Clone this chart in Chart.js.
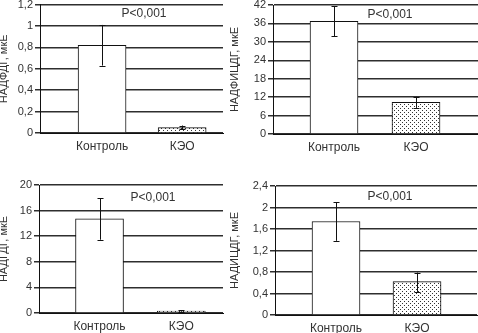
<!DOCTYPE html>
<html>
<head>
<meta charset="utf-8">
<script src="https://cdn.jsdelivr.net/npm/chart.js@4/dist/chart.umd.min.js"></script>
<style>
  body { margin: 0; background: #fff; }
  #wrap { position: relative; width: 478px; height: 333px; overflow: hidden; background: #fff; }
  .panel { position: absolute; }
</style>
</head>
<body>
<div id="wrap">
  <div class="panel" id="p1"><canvas id="c1"></canvas></div>
  <div class="panel" id="p2"><canvas id="c2"></canvas></div>
  <div class="panel" id="p3"><canvas id="c3"></canvas></div>
  <div class="panel" id="p4"><canvas id="c4"></canvas></div>
</div>
<script>
const categories = ['Контроль', 'КЭО'];
const pLabel = 'P<0,001';

// values: mean, lower and upper end of the error bar
const ndfdgMean = [0.82, 0.05];
const ndfdgLow = [0.63, 0.035];
const ndfdgHigh = [1.01, 0.07];

const ndficdgMean = [36.7, 10.3];
const ndficdgLow = [31.9, 8.5];
const ndficdgHigh = [41.6, 12.1];

const ndgdgMean = [14.7, 0.3];
const ndgdgLow = [11.45, 0.2];
const ndgdgHigh = [17.9, 0.4];

const ndicdgMean = [1.74, 0.62];
const ndicdgLow = [1.38, 0.43];
const ndicdgHigh = [2.10, 0.79];

const axisTitles = ['НАДФДГ, мкЕ', 'НАДФИЦДГ, мкЕ', 'НАДГДГ, мкЕ', 'НАДИЦДГ, мкЕ'];
const yMax = [1.2, 42, 20, 2.4];
const yStep = [0.2, 6, 4, 0.4];

Chart.defaults.font.family = '"Liberation Sans", Arial, sans-serif';
Chart.defaults.color = '#333';
Chart.defaults.animation = false;

// dotted fill of the second bar
function dotPattern() {
    const pc = document.createElement('canvas');
    pc.width = 4;
    pc.height = 4;
    const g = pc.getContext('2d');
    g.fillStyle = '#fff';
    g.fillRect(0, 0, 4, 4);
    g.fillStyle = '#333';
    g.fillRect(0, 0, 1, 1);
    g.fillRect(2, 2, 1, 1);
    return g.createPattern(pc, 'repeat');
}

const errorBars = {
    id: 'errorBars',
    afterDatasetsDraw(chart) {
        const ds = chart.data.datasets[0];
        const meta = chart.getDatasetMeta(0);
        const y = chart.scales.y;
        const c = chart.ctx;
        c.save();
        c.strokeStyle = '#111';
        c.lineWidth = 1;
        meta.data.forEach((bar, i) => {
            const x = Math.round(bar.x) + 0.5;
            const top = y.getPixelForValue(ds.errHigh[i]);
            const bottom = y.getPixelForValue(ds.errLow[i]);
            c.beginPath();
            c.moveTo(x, top);
            c.lineTo(x, bottom);
            c.moveTo(x - 3, Math.round(top) + 0.5);
            c.lineTo(x + 3, Math.round(top) + 0.5);
            c.moveTo(x - 3, Math.round(bottom) + 0.5);
            c.lineTo(x + 3, Math.round(bottom) + 0.5);
            c.stroke();
        });
        c.restore();
    }
};

const pText = {
    id: 'pText',
    afterDraw(chart, args, opts) {
        const c = chart.ctx;
        c.save();
        c.font = '12px "Liberation Sans", Arial, sans-serif';
        c.fillStyle = '#333';
        c.textAlign = 'center';
        c.textBaseline = 'middle';
        c.fillText(pLabel, opts.x, opts.y);
        c.restore();
    }
};

function fmt(v) {
    return String(Math.round(v * 10) / 10).replace('.', ',');
}

function makePanel(n, mean, low, high, box) {
    const holder = document.getElementById('p' + n);
    holder.style.left = box.left + 'px';
    holder.style.top = box.top + 'px';
    holder.style.width = box.width + 'px';
    holder.style.height = box.height + 'px';
    const cv = document.getElementById('c' + n);

    new Chart(cv, {
        type: 'bar',
        data: {
            datasets: [{
                data: mean.map((v, i) => ({ x: i, y: v })),
                errLow: low,
                errHigh: high,
                backgroundColor: ['#fff', dotPattern()],
                borderColor: '#111',
                borderWidth: 1,
                barThickness: 48
            }]
        },
        options: {
            responsive: true,
            maintainAspectRatio: false,
            layout: { padding: { top: box.padTop, right: box.padRight, left: 0, bottom: 0 } },
            plugins: {
                legend: { display: false },
                tooltip: { enabled: false },
                pText: { x: box.px, y: box.py }
            },
            scales: {
                x: {
                    type: 'linear',
                    bounds: 'data',
                    offset: false,
                    min: box.xMin,
                    max: box.xMax,
                    afterBuildTicks: s => { s.ticks = categories.map((c, i) => ({ value: i })); },
                    afterFit: s => { s.height = box.xHeight; },
                    grid: { display: false, drawTicks: false, tickLength: 0 },
                    border: { display: true, color: '#111', width: 1 },
                    ticks: {
                        autoSkip: false,
                        maxRotation: 0,
                        padding: 6,
                        font: { size: 12 },
                        callback: v => categories[v] || ''
                    }
                },
                y: {
                    min: 0,
                    max: yMax[n - 1],
                    afterFit: s => { s.width = box.yWidth; },
                    title: {
                        display: true,
                        text: axisTitles[n - 1],
                        font: { size: 11 },
                        padding: { top: 0, bottom: 2 }
                    },
                    grid: { color: '#2e2e2e', lineWidth: 1.5, tickLength: 5 },
                    border: { display: true, color: '#111', width: 1 },
                    ticks: {
                        stepSize: yStep[n - 1],
                        padding: 2,
                        font: { size: 11 },
                        callback: v => fmt(v)
                    }
                }
            }
        },
        plugins: [errorBars, pText]
    });
}

makePanel(1, ndfdgMean, ndfdgLow, ndfdgHigh,
    { left: -3, top: -4, width: 241, height: 169, yWidth: 43, padTop: 8, padRight: 15, xHeight: 32,
      xMin: -0.775, xMax: 1.51, px: 147, py: 18 });
makePanel(2, ndficdgMean, ndficdgLow, ndficdgHigh,
    { left: 228, top: -4, width: 250, height: 169, yWidth: 45, padTop: 9, padRight: 0, xHeight: 31,
      xMin: -0.744, xMax: 1.756, px: 162, py: 19 });
makePanel(3, ndgdgMean, ndgdgLow, ndgdgHigh,
    { left: -3, top: 165, width: 241, height: 168, yWidth: 42, padTop: 20, padRight: 15, xHeight: 20,
      xMin: -0.74, xMax: 1.51, px: 156, py: 33 });
makePanel(4, ndicdgMean, ndicdgLow, ndicdgHigh,
    { left: 228, top: 165, width: 250, height: 168, yWidth: 47, padTop: 21, padRight: 1, xHeight: 18,
      xMin: -0.753, xMax: 1.74, px: 162, py: 32 });
</script>
</body>
</html>
